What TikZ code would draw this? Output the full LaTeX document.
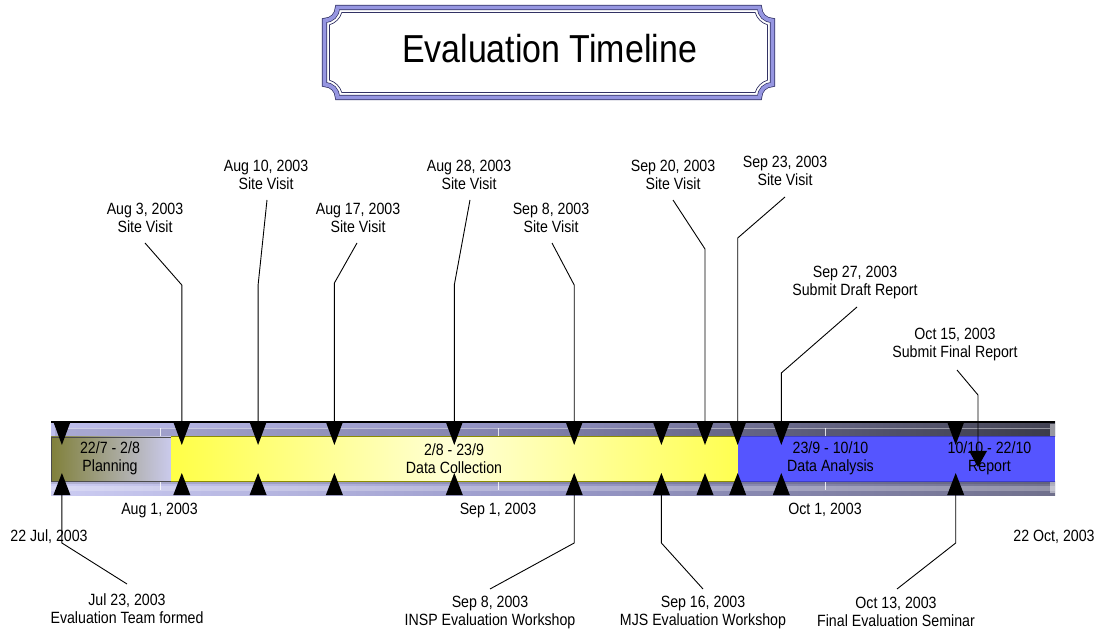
\documentclass[tikz,border=0pt]{standalone}
\usepackage{fontspec}
\setmainfont{Liberation Sans}[FakeStretch=0.87]
\newcommand\lblfont{\fontsize{16.3}{18}\selectfont}
\newcommand\ttlfont{\fontsize{39}{45}\selectfont}
\definecolor{frdark}{RGB}{50,50,100}
\definecolor{frlav}{RGB}{150,150,225}
\definecolor{tl}{RGB}{190,190,236}
\definecolor{tm}{RGB}{140,140,188}
\definecolor{tr}{RGB}{66,66,82}
\definecolor{bl}{RGB}{204,204,242}
\definecolor{bm}{RGB}{152,152,200}
\definecolor{br}{RGB}{112,112,140}
\definecolor{plL}{RGB}{128,128,58}
\definecolor{plR}{RGB}{202,202,236}
\definecolor{yl}{RGB}{255,255,70}
\definecolor{ym}{RGB}{255,255,215}
\definecolor{yr}{RGB}{255,255,80}
\definecolor{ydark}{RGB}{140,140,0}
\definecolor{bfill}{RGB}{85,85,255}
\definecolor{bdark}{RGB}{60,60,200}
\begin{document}
\begin{tikzpicture}[x=1pt,y=-1pt,
  lbl/.style={align=center,inner sep=0pt,font=\lblfont},
  leader/.style={draw=black,line width=0.9pt},
  tick/.style={draw=white,opacity=.8,line width=.8pt}]
\useasboundingbox (0,0) rectangle (1104,636);
% ---------- title frame ----------
\draw[frdark,line width=0.7pt]
  (329.5,24.79) .. controls (335.44,23.07) and (340.08,18.44) .. (341.79,12.5)
  -- (755.21,12.5) .. controls (756.92,18.44) and (761.56,23.07) .. (767.5,24.79)
  -- (767.5,80.21) .. controls (761.56,81.93) and (756.92,86.56) .. (755.21,92.5)
  -- (341.79,92.5) .. controls (340.08,86.56) and (335.44,81.93) .. (329.5,80.21)
  -- cycle;
\foreach \c/\w in {frdark/5.2,frlav/3.8}{
\draw[\c,line width=\w pt]
  (337.5,7.5) -- (759.5,7.5) .. controls (759.5,14.68) and (765.32,20.5) .. (772.5,20.5)
  -- (772.5,84.5) .. controls (765.32,84.5) and (759.5,90.32) .. (759.5,97.5)
  -- (337.5,97.5) .. controls (337.5,90.32) and (331.68,84.5) .. (324.5,84.5)
  -- (324.5,20.5) .. controls (331.68,20.5) and (337.5,14.68) .. (337.5,7.5) -- cycle;
}
\node[anchor=base,inner sep=0pt,font=\ttlfont] (title) at (549.5,63) {Evaluation Timeline};
% ---------- bar ----------
\shade[left color=tl,right color=tr,middle color=tm] (51,422) rectangle (1055,437);
\fill[black,opacity=.1] (55,428) rectangle (1050,437);
\draw[white,opacity=.45,line width=.6pt] (55,428) -- (1050,428);
\shade[left color=bl,right color=br,middle color=bm] (51,481) rectangle (1055,495);
\fill[white,opacity=.25] (51,486) rectangle (1055,491);
\fill[black,opacity=.12] (51,481) rectangle (1055,484);
\fill[white,opacity=.45] (1050,424) rectangle (1055,437);
\fill[white,opacity=.45] (1050,481) rectangle (1055,493);
\draw[black,line width=1.2pt] (51,422) -- (1055,422);
\foreach \x in {160,498,825}{
  \draw[tick] (\x,428) -- (\x,437);
  \draw[tick] (\x,481) -- (\x,490);
}
% segments
\shade[left color=plL,right color=plR] (51,437) rectangle (171,481);
\draw[gray!60!black,line width=.8pt] (51,437) rectangle (171,481);
\shade[left color=yl,right color=yr,middle color=ym] (171,437) rectangle (738,481);
\draw[ydark,line width=1pt] (171,437) -- (738,437) (171,481) -- (738,481);
\fill[bfill] (738,437) rectangle (1055,481);
\draw[bdark,line width=1pt] (738,437) -- (1055,437) (738,481) -- (1055,481);
\node[lbl] (segPl) at (110,458.5) {22/7 - 2/8\\Planning};
\node[lbl] (segDc) at (454,458.5) {2/8 - 23/9\\Data Collection};
\node[lbl] (segDa) at (830.5,458.5) {23/9 - 10/10\\Data Analysis};
\node[lbl] (segRp) at (989.5,458.5) {10/10 - 22/10\\Report};
% markers
\foreach \n/\x in {a/61.9,b/181.8,c/258.1,d/334.4,e/454.3,f/574.2,g/661.4,h/705,i/737.7,j/781.3,k/955.7}{
  \coordinate (mt\n) at (\x,422);
  \coordinate (mb\n) at (\x,495);
  \fill[black] (\x-8.5,422) -- (\x+8.5,422) -- (\x,445) -- cycle;
  \fill[black] (\x-8.5,495) -- (\x+8.5,495) -- (\x,473) -- cycle;
}
% axis labels
\node[lbl] (axAug) at (159.5,510) {Aug 1, 2003};
\node[lbl] (axSep) at (498,510) {Sep 1, 2003};
\node[lbl] (axOct) at (825,510) {Oct 1, 2003};
\node[lbl] (axJul22) at (49,537) {22 Jul, 2003};
\node[lbl] (axOct22) at (1054,537) {22 Oct, 2003};
% top labels
\node[lbl] (lb) at (145,218) {Aug 3, 2003\\Site Visit};
\node[lbl] (lc) at (266,175) {Aug 10, 2003\\Site Visit};
\node[lbl] (ld) at (358,218) {Aug 17, 2003\\Site Visit};
\node[lbl] (le) at (469,175) {Aug 28, 2003\\Site Visit};
\node[lbl] (lf) at (551,218) {Sep 8, 2003\\Site Visit};
\node[lbl] (lh) at (673,175) {Sep 20, 2003\\Site Visit};
\node[lbl] (li) at (785,170.5) {Sep 23, 2003\\Site Visit};
\node[lbl] (lj) at (855,282.5) {Sep 27, 2003\\Submit Draft Report};
\node[lbl] (lo) at (955,345) {Oct 15, 2003\\Submit Final Report};
% bottom labels
\node[lbl] (la) at (127,608.5) {Jul 23, 2003\\Evaluation Team formed};
\node[lbl] (lf2) at (490,612) {Sep 8, 2003\\INSP Evaluation Workshop};
\node[lbl] (lg) at (703,612) {Sep 16, 2003\\MJS Evaluation Workshop};
\node[lbl] (lk) at (896,612) {Oct 13, 2003\\Final Evaluation Seminar};
% leader coordinates
\coordinate (sb) at (145,243);   \coordinate (kb) at (181.8,285);
\coordinate (sc) at (267,200);   \coordinate (kc) at (258.1,285);
\coordinate (sd) at (357,243);   \coordinate (kd) at (334.4,283);
\coordinate (se) at (470,200);   \coordinate (ke) at (454.3,285);
\coordinate (sf) at (552,243);   \coordinate (kf) at (574.2,285);
\coordinate (sh) at (673,200);   \coordinate (kh) at (705,249);
\coordinate (si) at (785,197);   \coordinate (ki) at (737.7,238);
\coordinate (sj) at (857,307);   \coordinate (kj) at (781.3,373);
\coordinate (so) at (957,370);   \coordinate (ko) at (978,395);
\coordinate (mo) at (978,452);
\coordinate (ka) at (61.9,543);  \coordinate (sa) at (127,584);
\coordinate (kf2) at (574.2,543); \coordinate (sf2) at (490,589);
\coordinate (kg) at (661.4,543); \coordinate (sg) at (703,589);
\coordinate (kk) at (955.7,543); \coordinate (sk) at (897,589);
% leaders
\foreach \n in {b,c,d,e,f,h,i,j}{
  \draw[leader] (s\n) -- (k\n) -- (mt\n);
}
\draw[leader] (so) -- (ko) -- (mo);
\fill[black] (969,451) -- (987,451) -- (978,467) -- cycle;
\draw[leader] (mba) -- (ka) -- (sa);
\draw[leader] (mbf) -- (kf2) -- (sf2);
\draw[leader] (mbg) -- (kg) -- (sg);
\draw[leader] (mbk) -- (kk) -- (sk);
\end{tikzpicture}
\end{document}
